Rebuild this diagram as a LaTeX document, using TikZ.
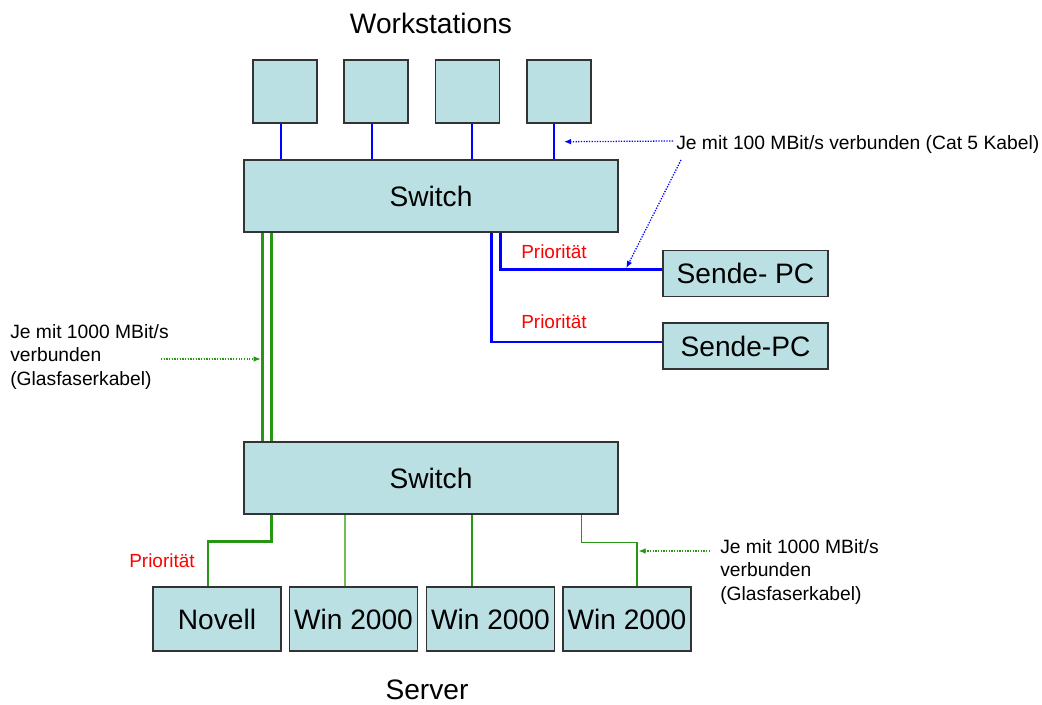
\documentclass[tikz,border=0pt]{standalone}
\usepackage{fontspec}
\setmainfont{Liberation Sans}
\usetikzlibrary{arrows.meta,calc}

\definecolor{boxcyan}{RGB}{187,224,227}
\definecolor{fibergreen}{RGB}{40,150,20}
\definecolor{fiberlight}{RGB}{110,190,80}
\definecolor{prioblue}{RGB}{0,0,255}

\begin{document}
\begin{tikzpicture}[x=0.025cm, y=-0.025cm,
    every node/.style={font=\fontsize{13.5}{16.5}\selectfont},
    big/.style={font=\fontsize{20}{24}\selectfont},
    unit/.style={draw=black!80, fill=boxcyan, line width=1pt, big, inner sep=0pt},
    ws/.style={unit, minimum width=1.6cm, minimum height=1.575cm},
    switchbox/.style={unit, minimum width=9.35cm, minimum height=1.8cm},
    sender/.style={unit, minimum width=4.125cm, minimum height=1.15cm},
    server/.style={unit, minimum width=3.2cm, minimum height=1.6cm},
    note/.style={inner sep=0pt, align=left, font=\fontsize{13.7}{16.7}\selectfont},
    priolabel/.style={text=red},
    cat5/.style={prioblue, line width=1pt},
    prio/.style={prioblue, line width=2pt},
    fiber/.style={fibergreen, line width=2pt},
    fiberthin/.style={fibergreen, line width=0.9pt},
    hint/.style={densely dotted, line width=0.9pt, -{Latex[length=5pt,width=4pt]}}]
  \useasboundingbox (0,0) rectangle (1042,705);

  % Workstations
  \node[big] (wslabel) at (431,23) {Workstations};
  \node[ws] (ws1) at (285,91.5) {};
  \node[ws] (ws2) at (376,91.5) {};
  \node[ws] (ws3) at (467.5,91.5) {};
  \node[ws] (ws4) at (559,91.5) {};

  % Switches
  \node[switchbox] (sw1) at (431,196) {Switch};
  \node[switchbox] (sw2) at (431,478) {Switch};

  % Sende-PCs
  \node[sender] (pc1) at (745.5,273.5) {Sende- PC};
  \node[sender] (pc2) at (745.5,346) {Sende-PC};

  % Server
  \node[server] (novell) at (217,619) {Novell};
  \node[server] (win1) at (353.5,619) {Win 2000};
  \node[server] (win2) at (490.5,619) {Win 2000};
  \node[server] (win3) at (627,619) {Win 2000};
  \node[big] (srvlabel) at (427,690) {Server};

  % 100 MBit/s links
  \foreach \n/\dx in {1/-4,2/-4,3/4.5,4/-5}
    \draw[cat5] ([xshift=\dx*0.025cm]ws\n.south) -- ([xshift=\dx*0.025cm]ws\n.south |- sw1.north);
  \draw[prio] ($(sw1.south east)+(-118,0)$) |- ([yshift=0.11cm]pc1.west) coordinate (pc1in);
  \draw[prio] ($(sw1.south east)+(-127,0)$) |- ([yshift=0.1cm]pc2.west);
  \node[priolabel] (prio1) at (554,252) {Priorität};
  \node[priolabel] (prio2) at (554,322) {Priorität};

  % Glasfaser
  \draw[fiber] ($(sw1.south west)+(19,0)$) coordinate (f1) -- (f1 |- sw2.north);
  \draw[fiber] ($(sw1.south west)+(28,0)$) coordinate (f2) -- (f2 |- sw2.north);
  \draw[fiber] ($(sw2.south west)+(28,0)$) -- ++(0,27) -| ([xshift=-0.225cm]novell.north);
  \draw[fiberthin, fiberlight] ([xshift=-0.2125cm]win1.north) -- ([xshift=-0.2125cm]win1.north |- sw2.south);
  \draw[fiberthin] ([xshift=-0.4625cm]win2.north) -- ([xshift=-0.4625cm]win2.north |- sw2.south);
  \draw[fiberthin] ($(sw2.south west)+(338,0)$) -- ++(0,28) -| ([xshift=0.25cm]win3.north) coordinate (w3top);
  \node[priolabel] (prio3) at (162,561) {Priorität};

  % Hinweise
  \node[note, anchor=west] (cat5note) at (676,145) {Je mit 100 MBit/s verbunden (Cat 5 Kabel)};
  \draw[hint, prioblue] ($(cat5note.west)+(-3,-4)$) -- ($(ws4.south)+(5,18)$);
  \draw[hint, prioblue] ($(cat5note.west)+(5,15)$) -- ($(pc1in)+(-36,-1)$);

  \node[note, anchor=west] (gbitnote) at (10,357) {Je mit 1000 MBit/s\\verbunden\\(Glasfaserkabel)};
  \draw[hint, fibergreen] ($(gbitnote.east)+(-8,2)$) coordinate (g0) -- ($(g0 -| f1)+(-1.5,0)$);

  \node[note, anchor=west] (gbitnote2) at (720,572) {Je mit 1000 MBit/s\\verbunden\\(Glasfaserkabel)};
  \draw[hint, fibergreen] ($(gbitnote2.west)+(-10,-21)$) coordinate (g1) -- ($(g1 -| w3top)+(1.5,0)$);
\end{tikzpicture}
\end{document}
